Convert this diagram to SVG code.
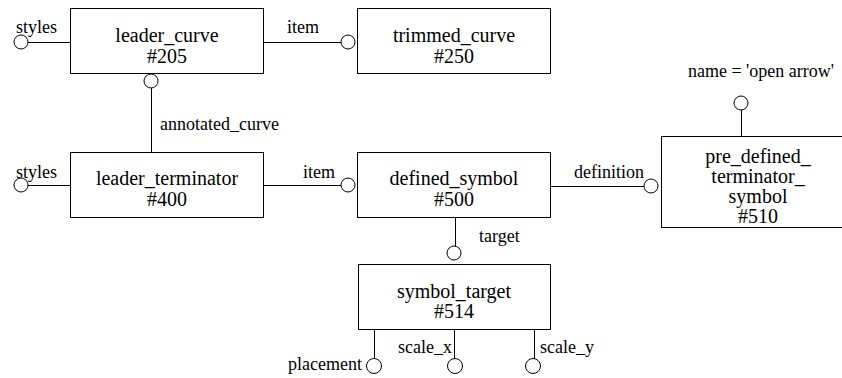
<svg xmlns="http://www.w3.org/2000/svg" width="842" height="378" viewBox="0 0 842 378">
<style>
.box{fill:#fff;stroke:#000;stroke-width:1}
.c{fill:#fff;stroke:#000;stroke-width:1}
.ln{stroke:#000;stroke-width:1;fill:none}
.t{font-size:20px;text-anchor:middle;fill:#000}
.l{font-size:18px;fill:#000}
</style>
<rect width="842" height="378" fill="#fff"/>
<g font-family="Liberation Serif, Times New Roman, Times, serif">
<g id="connectors">
<line class="ln" x1="28" y1="42.5" x2="70" y2="42.5"/>
<circle class="c" cx="21" cy="42" r="7"/>
<text class="l" x="16" y="33">styles</text>
<line class="ln" x1="263" y1="42.5" x2="341" y2="42.5"/>
<circle class="c" cx="348" cy="42" r="7"/>
<text class="l" x="287" y="33">item</text>
<line class="ln" x1="151.5" y1="88" x2="151.5" y2="152"/>
<circle class="c" cx="151" cy="81" r="7"/>
<text class="l" x="160" y="130">annotated_curve</text>
<line class="ln" x1="28" y1="185.5" x2="70" y2="185.5"/>
<circle class="c" cx="21" cy="185" r="7"/>
<text class="l" x="16" y="178">styles</text>
<line class="ln" x1="263" y1="185.5" x2="341" y2="185.5"/>
<circle class="c" cx="348" cy="185" r="7"/>
<text class="l" x="303" y="178">item</text>
<line class="ln" x1="550" y1="186.5" x2="644" y2="186.5"/>
<circle class="c" cx="651" cy="186" r="7"/>
<text class="l" x="574" y="178">definition</text>
<line class="ln" x1="741.5" y1="110" x2="741.5" y2="136"/>
<circle class="c" cx="741" cy="103" r="7"/>
<text class="l" x="761" y="77" text-anchor="middle">name = 'open arrow'</text>
<line class="ln" x1="455.5" y1="217" x2="455.5" y2="246"/>
<circle class="c" cx="454" cy="253" r="7"/>
<text class="l" x="479" y="242">target</text>
<line class="ln" x1="374.5" y1="329" x2="374.5" y2="359"/>
<circle class="c" cx="374" cy="366" r="7.5"/>
<text class="l" x="362" y="370" text-anchor="end">placement</text>
<line class="ln" x1="454.5" y1="329" x2="454.5" y2="359"/>
<circle class="c" cx="455" cy="366" r="7.5"/>
<text class="l" x="452" y="353" text-anchor="end">scale_x</text>
<line class="ln" x1="534.5" y1="329" x2="534.5" y2="359"/>
<circle class="c" cx="533" cy="366" r="7.5"/>
<text class="l" x="540" y="353">scale_y</text>
</g>
<g id="n205">
<rect class="box" x="70.5" y="8.5" width="193" height="65"/>
<text class="t" x="167" y="42">leader_curve</text>
<text class="t" x="167" y="63">#205</text>
</g>
<g id="n250">
<rect class="box" x="357.5" y="8.5" width="193" height="65"/>
<text class="t" x="454" y="42">trimmed_curve</text>
<text class="t" x="454" y="63">#250</text>
</g>
<g id="n400">
<rect class="box" x="70.5" y="152.5" width="193" height="65"/>
<text class="t" x="167" y="185">leader_terminator</text>
<text class="t" x="167" y="206">#400</text>
</g>
<g id="n500">
<rect class="box" x="357.5" y="152.5" width="193" height="65"/>
<text class="t" x="454" y="185">defined_symbol</text>
<text class="t" x="454" y="206">#500</text>
</g>
<g id="n510">
<rect class="box" x="661.5" y="136.5" width="193" height="91"/>
<text class="t" x="758" y="163">pre_defined_</text>
<text class="t" x="758" y="183">terminator_</text>
<text class="t" x="758" y="203">symbol</text>
<text class="t" x="758" y="223">#510</text>
</g>
<g id="n514">
<rect class="box" x="358.5" y="264.5" width="192" height="65"/>
<text class="t" x="454" y="298">symbol_target</text>
<text class="t" x="454" y="318">#514</text>
</g>
</g>
</svg>
